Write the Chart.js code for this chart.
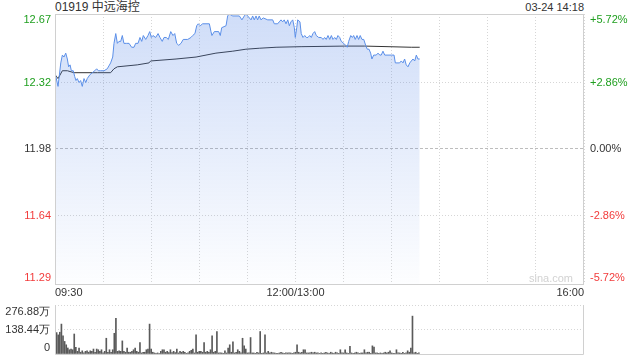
<!DOCTYPE html>
<html>
<head>
<meta charset="utf-8">
<script src="https://cdn.jsdelivr.net/npm/chart.js@4"></script>
<style>
  body { margin: 0; background: #fff; width: 640px; height: 360px; position: relative; overflow: hidden;
         font-family: "Liberation Sans", Arial, "Noto Sans CJK SC", sans-serif; }
  #priceChart { position: absolute; left: 0; top: 0; }
  #volChart { position: absolute; left: 0; top: 300px; }
  .title { position: absolute; left: 55px; top: 0; font-size: 12px; line-height: 14px; color: #333; }
  .stamp { position: absolute; right: 56px; top: 0; font-size: 11px; line-height: 14px; color: #333; }
</style>
</head>
<body>
<div class="title">01919 中远海控</div>
<div class="stamp">03-24 14:18</div>
<canvas id="priceChart" width="640" height="300"></canvas>
<canvas id="volChart" width="640" height="60"></canvas>
<script>
// minutes since 09:30 (lunch break removed, 12:00/13:00 = 150, 16:00 = 330)
const priceMinutes = [0, 1.9, 3.6, 4.6, 5.6, 6.7, 7.7, 8.5, 9.4, 10.2, 11.4, 12.3, 13.1, 13.9, 15.0, 16.0, 17.0, 18.1, 19.2, 20.1,
  21.8, 23.3, 24.8, 26.0, 27.0, 28.5, 30.6, 32.6, 34.7, 36.0, 36.8, 37.9, 38.9, 39.9, 41.0, 42.0, 43.0, 44.7, 46.2, 47.8,
  49.3, 50.3, 51.8, 53.0, 54.1, 55.1, 56.6, 58.0, 59.1, 60.1, 61.1, 62.8, 64.3, 65.5, 66.9, 68.0, 69.4, 70.7, 72.2, 73.6,
  74.7, 75.9, 77.2, 78.6, 80.0, 82.8, 84.8, 85.9, 87.3, 88.4, 89.4, 90.6, 92.1, 96.3, 97.3, 97.9, 99.4, 102.1, 103.1, 104.0,
  106.7, 107.7, 108.7, 110.9, 115.0, 116.6, 118.1, 119.1, 120.2, 122.3, 123.3, 124.3, 125.4, 126.4, 127.4, 128.5, 129.9, 132.7, 135.8, 136.8,
  138.9, 139.9, 141.0, 142.0, 143.0, 144.1, 145.2, 146.2, 147.2, 148.3, 149.3, 149.9, 150.8, 151.4, 152.8, 153.6, 154.7, 155.8, 156.8, 157.8,
  158.9, 159.9, 160.9, 162.0, 163.0, 164.5, 166.1, 167.2, 168.2, 169.2, 170.3, 171.4, 172.4, 173.4, 174.5, 175.5, 176.5, 177.6, 178.6, 180.1,
  181.3, 182.3, 183.2, 184.5, 185.5, 186.3, 187.3, 188.4, 189.4, 190.4, 191.5, 192.6, 193.8, 194.8, 195.9, 196.9, 197.7, 198.8, 200.4, 201.5,
  202.6, 203.5, 204.6, 205.7, 209.8, 211.5, 212.3, 215.0, 216.0, 217.1, 218.1, 219.1, 220.2, 221.3, 222.3, 223.3, 224.4, 225.4, 226.4, 227.5];
const prices = [12.37, 12.30, 12.42, 12.46, 12.45, 12.47, 12.44, 12.40, 12.41, 12.38, 12.38, 12.35, 12.33, 12.34, 12.32, 12.33, 12.30, 12.34, 12.32, 12.34,
  12.36, 12.37, 12.38, 12.39, 12.38, 12.38, 12.38, 12.39, 12.42, 12.45, 12.52, 12.57, 12.52, 12.53, 12.53, 12.56, 12.52, 12.52, 12.52, 12.50,
  12.50, 12.52, 12.52, 12.55, 12.53, 12.56, 12.54, 12.56, 12.58, 12.55, 12.56, 12.55, 12.57, 12.55, 12.53, 12.55, 12.55, 12.54, 12.58, 12.56,
  12.57, 12.52, 12.51, 12.52, 12.54, 12.54, 12.55, 12.56, 12.57, 12.61, 12.62, 12.61, 12.62, 12.62, 12.58, 12.56, 12.58, 12.58, 12.56, 12.60,
  12.61, 12.66, 12.67, 12.66, 12.66, 12.64, 12.66, 12.67, 12.66, 12.64, 12.66, 12.64, 12.66, 12.64, 12.66, 12.64, 12.65, 12.64, 12.64, 12.62,
  12.62, 12.63, 12.64, 12.63, 12.64, 12.62, 12.64, 12.61, 12.63, 12.64, 12.60, 12.55, 12.60, 12.64, 12.63, 12.57, 12.55, 12.56, 12.55, 12.55,
  12.56, 12.55, 12.57, 12.58, 12.56, 12.55, 12.55, 12.54, 12.55, 12.54, 12.56, 12.54, 12.56, 12.54, 12.55, 12.54, 12.56, 12.55, 12.53, 12.52,
  12.51, 12.50, 12.53, 12.56, 12.55, 12.56, 12.54, 12.56, 12.54, 12.56, 12.54, 12.54, 12.51, 12.49, 12.49, 12.47, 12.44, 12.46, 12.46, 12.47,
  12.46, 12.46, 12.48, 12.46, 12.46, 12.46, 12.42, 12.42, 12.43, 12.42, 12.44, 12.41, 12.40, 12.42, 12.43, 12.44, 12.43, 12.46, 12.44, 12.44];

const avgMinutes = [0, 1.9, 4.6, 7.7, 11.9, 26.4, 34.7, 36.8, 38.9, 51.3, 58.6, 59.7, 75.5, 88.0, 100.4, 110.9, 119.1, 127.4, 137.9, 153.5, 180.7, 193.2, 222.3, 227.5];
const avgPrices = [12.36, 12.34, 12.38, 12.38, 12.37, 12.37, 12.37, 12.39, 12.40, 12.41, 12.42, 12.43, 12.44, 12.45, 12.47, 12.48, 12.49, 12.495, 12.50, 12.503, 12.506, 12.506, 12.50, 12.50];

// volume in 万 shares, one bar per minute from 09:30
const volumes = [276.88, 121, 108, 123, 169, 102, 71, 52, 34, 24, 28, 24, 113, 37, 15, 34, 10, 18, 6, 15,
  18, 10, 18, 15, 28, 10, 28, 24, 15, 24, 6, 15, 89, 10, 24, 10, 24, 117, 201, 15,
  18, 15, 74, 15, 10, 34, 10, 10, 15, 24, 34, 15, 10, 65, 6, 10, 10, 24, 28, 169,
  28, 10, 6, 2, 6, 3, 15, 24, 24, 10, 15, 8, 24, 8, 15, 8, 28, 6, 15, 10,
  15, 10, 2, 6, 15, 21, 28, 6, 108, 10, 15, 15, 10, 65, 10, 15, 10, 24, 102, 10,
  15, 127, 6, 6, 6, 2, 18, 6, 34, 52, 10, 69, 6, 10, 24, 15, 6, 89, 46, 28,
  6, 6, 93, 6, 6, 2, 10, 6, 127, 2, 6, 108, 6, 15, 6, 10, 6, 6, 2, 2,
  6, 10, 6, 2, 6, 6, 6, 6, 2, 6, 10, 52, 10, 6, 10, 24, 24, 6, 6, 6,
  10, 6, 10, 6, 6, 2, 6, 2, 6, 10, 6, 2, 10, 6, 2, 10, 6, 2, 24, 6,
  6, 24, 6, 2, 43, 6, 2, 6, 10, 6, 2, 6, 6, 24, 6, 10, 10, 2, 46, 39,
  6, 6, 2, 6, 2, 6, 10, 6, 10, 18, 6, 2, 2, 24, 6, 6, 2, 10, 2, 6,
  18, 10, 34, 214, 6, 10, 2, 6];

const prevClose = 11.98;
const priceTicks = [12.67, 12.32, 11.98, 11.64, 11.29];
const pctLabels = ['+5.72%', '+2.86%', '0.00%', '-2.86%', '-5.72%'];
const volTicks = [276.88, 138.44, 0];
const volLabels = ['276.88万', '138.44万', '0'];
const timeTicks = [0, 30, 60, 90, 120, 150, 180, 210, 240, 270, 300, 330];
const timeLabelMinutes = [0, 150, 330];
const timeLabels = ['09:30', '12:00/13:00', '16:00'];

const FONT = '11px "Liberation Sans", Arial, sans-serif';
const UP = '#1f9f1f';
const DOWN = '#f23b3b';
const TEXT = '#333';
const GRID = '#d6d6d6';
const BOX = '#d0d0d0';

function labelColor(v) {
  if (v > prevClose) return UP;
  if (v < prevClose) return DOWN;
  return TEXT;
}

const priceText = {
  id: 'priceText',
  afterDraw(chart) {
    const { ctx, chartArea: a, scales: { x, y } } = chart;
    ctx.save();
    ctx.strokeStyle = BOX;
    ctx.lineWidth = 1;
    ctx.strokeRect(a.left + 0.5, a.top + 0.5, a.right - a.left - 1, a.bottom - a.top);
    ctx.font = FONT;
    ctx.textBaseline = 'middle';
    priceTicks.forEach((v, i) => {
      const py = Math.min(Math.max(y.getPixelForValue(v), a.top + 6), a.bottom - 6);
      ctx.fillStyle = labelColor(v);
      ctx.textAlign = 'right';
      ctx.fillText(v.toFixed(2), a.left - 4, py);
      ctx.textAlign = 'left';
      ctx.fillText(pctLabels[i], a.right + 6, py);
    });
    ctx.fillStyle = TEXT;
    timeLabelMinutes.forEach((m, i) => {
      ctx.textAlign = i === 0 ? 'left' : (i === timeLabels.length - 1 ? 'right' : 'center');
      ctx.fillText(timeLabels[i], x.getPixelForValue(m), a.bottom + 9);
    });
    ctx.fillStyle = '#d2d2d2';
    ctx.textAlign = 'right';
    ctx.fillText('sina.com', a.right - 11, a.bottom - 5);
    ctx.restore();
  }
};

const volText = {
  id: 'volText',
  afterDraw(chart) {
    const { ctx, chartArea: a, scales: { y } } = chart;
    ctx.save();
    ctx.strokeStyle = BOX;
    ctx.lineWidth = 1;
    ctx.beginPath();
    ctx.moveTo(a.left + 0.5, a.top);
    ctx.lineTo(a.left + 0.5, a.bottom + 0.5);
    ctx.lineTo(a.right - 0.5, a.bottom + 0.5);
    ctx.lineTo(a.right - 0.5, a.top);
    ctx.stroke();
    ctx.font = FONT;
    ctx.textBaseline = 'middle';
    ctx.textAlign = 'right';
    ctx.fillStyle = TEXT;
    volTicks.forEach((v, i) => {
      const py = Math.min(Math.max(y.getPixelForValue(v), a.top + 7), a.bottom - 6);
      ctx.fillText(volLabels[i], a.left - 5, py);
    });
    ctx.restore();
  }
};

const priceCtx = document.getElementById('priceChart').getContext('2d');
new Chart(priceCtx, {
  type: 'line',
  data: {
    datasets: [{
      data: priceMinutes.map((m, i) => ({ x: m, y: prices[i] })),
      borderColor: '#5b8fe8',
      borderWidth: 1,
      pointRadius: 0,
      tension: 0,
      fill: 'start',
      backgroundColor: (c) => {
        const a = c.chart.chartArea;
        if (!a) return 'rgba(80,130,230,0.2)';
        const g = c.chart.ctx.createLinearGradient(0, a.top, 0, a.bottom);
        g.addColorStop(0, 'rgba(80,130,230,0.27)');
        g.addColorStop(1, 'rgba(80,130,230,0.01)');
        return g;
      }
    }, {
      data: avgMinutes.map((m, i) => ({ x: m, y: avgPrices[i] })),
      borderColor: '#333',
      borderWidth: 1,
      pointRadius: 0,
      tension: 0,
      fill: false
    }]
  },
  options: {
    responsive: false,
    animation: false,
    devicePixelRatio: 1,
    layout: { padding: { left: 55, right: 56, top: 14, bottom: 16 } },
    plugins: { legend: { display: false }, tooltip: { enabled: false } },
    scales: {
      x: {
        type: 'linear',
        min: 0,
        max: 330,
        afterBuildTicks: (s) => { s.ticks = timeTicks.map(v => ({ value: v })); },
        ticks: { display: false },
        grid: { color: GRID, drawTicks: false },
        border: { display: false, dash: [1, 2] }
      },
      y: {
        min: 11.29,
        max: 12.67,
        afterBuildTicks: (s) => { s.ticks = priceTicks.map(v => ({ value: v })); },
        ticks: { display: false },
        grid: {
          drawTicks: false,
          color: (c) => c.tick && c.tick.value === prevClose ? '#bdbdbd' : GRID
        },
        border: {
          display: false,
          dash: (c) => c.tick && c.tick.value === prevClose ? [3, 2] : [1, 2]
        }
      }
    }
  },
  plugins: [priceText]
});

const volCtx = document.getElementById('volChart').getContext('2d');
new Chart(volCtx, {
  type: 'bar',
  data: {
    datasets: [{
      data: volumes.map((v, i) => ({ x: i, y: v })),
      backgroundColor: '#5a5a5a',
      barThickness: 1
    }]
  },
  options: {
    responsive: false,
    animation: false,
    devicePixelRatio: 1,
    layout: { padding: { left: 55, right: 56, top: 5, bottom: 6 } },
    plugins: { legend: { display: false }, tooltip: { enabled: false } },
    scales: {
      x: {
        type: 'linear',
        min: 0,
        max: 330,
        offset: false,
        ticks: { display: false },
        grid: { display: false, offset: false, drawTicks: false },
        border: { display: false }
      },
      y: {
        min: 0,
        max: 276.88,
        afterBuildTicks: (s) => { s.ticks = volTicks.map(v => ({ value: v })); },
        ticks: { display: false },
        grid: { drawTicks: false, color: (c) => c.tick && c.tick.value === 0 ? 'rgba(0,0,0,0)' : GRID },
        border: { display: false, dash: [1, 2] }
      }
    }
  },
  plugins: [volText]
});
</script>
</body>
</html>
